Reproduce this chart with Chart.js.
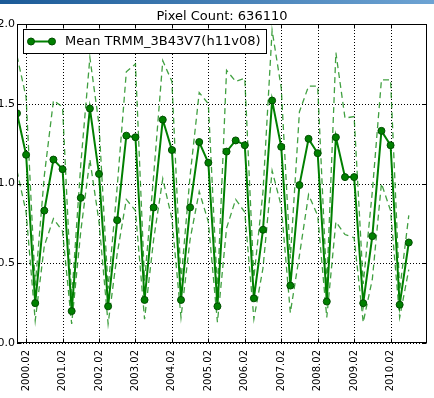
<!DOCTYPE html>
<html lang="en">
<head>
<meta charset="UTF-8">
<title>Pixel Count: 636110</title>
<script src="https://cdn.jsdelivr.net/npm/chart.js"></script>
<style>
    html, body { margin: 0; padding: 0; background: #fff; }
    #topbar { position: absolute; left: 0; top: 0; width: 434px; height: 4px; background: linear-gradient(to right, #1b5a97, #6da3d3); z-index: 2; }
    #wrap { position: relative; width: 434px; height: 398px; }
</style>
</head>
<body>
<div id="topbar"></div>
<div id="wrap"><canvas id="trmmChart"></canvas></div>

<script>
// quarterly samples (year.month)
const dates = [
    "1999.11",
    "2000.02", "2000.05", "2000.08", "2000.11",
    "2001.02", "2001.05", "2001.08", "2001.11",
    "2002.02", "2002.05", "2002.08", "2002.11",
    "2003.02", "2003.05", "2003.08", "2003.11",
    "2004.02", "2004.05", "2004.08", "2004.11",
    "2005.02", "2005.05", "2005.08", "2005.11",
    "2006.02", "2006.05", "2006.08", "2006.11",
    "2007.02", "2007.05", "2007.08", "2007.11",
    "2008.02", "2008.05", "2008.08", "2008.11",
    "2009.02", "2009.05", "2009.08", "2009.11",
    "2010.02", "2010.05", "2010.08"
];

const tickLabels = ["2000.02", "2001.02", "2002.02", "2003.02", "2004.02", "2005.02",
                    "2006.02", "2007.02", "2008.02", "2009.02", "2010.02"];
const yTicks = [0.0, 0.5, 1.0, 1.5, 2.0];

// mean and the two dashed bounds
const meanValues = [
    1.44,
    1.18, 0.25, 0.83, 1.15,
    1.09, 0.20, 0.91, 1.47,
    1.06, 0.23, 0.77, 1.30,
    1.29, 0.27, 0.85, 1.40,
    1.21, 0.27, 0.85, 1.26,
    1.13, 0.23, 1.20, 1.27,
    1.24, 0.28, 0.71, 1.52,
    1.23, 0.36, 0.99, 1.28,
    1.19, 0.26, 1.29, 1.04,
    1.04, 0.25, 0.67, 1.33,
    1.24, 0.24, 0.63
];
const upperValues = [
    1.80,
    1.54, 0.36, 1.05, 1.52,
    1.48, 0.28, 1.12, 1.79,
    1.37, 0.34, 0.98, 1.70,
    1.75, 0.39, 1.05, 1.77,
    1.64, 0.39, 1.05, 1.57,
    1.50, 0.33, 1.71, 1.64,
    1.66, 0.41, 0.95, 1.96,
    1.60, 0.53, 1.45, 1.61,
    1.61, 0.36, 1.82, 1.41,
    1.42, 0.37, 0.95, 1.65,
    1.65, 0.33, 0.80
];
const lowerValues = [
    1.08,
    0.82, 0.14, 0.61, 0.78,
    0.70, 0.12, 0.70, 1.15,
    0.76, 0.12, 0.56, 0.90,
    0.83, 0.15, 0.65, 1.03,
    0.78, 0.16, 0.65, 0.95,
    0.76, 0.13, 0.72, 0.90,
    0.82, 0.15, 0.47, 1.08,
    0.86, 0.19, 0.55, 0.93,
    0.80, 0.16, 0.76, 0.68,
    0.66, 0.13, 0.40, 1.00,
    0.83, 0.16, 0.46
];

const tickPos = tickLabels.map(function (l) { return dates.indexOf(l); });
const toPoints = function (arr) { return arr.map(function (v, i) { return { x: i, y: v }; }); };

const FONT = "'DejaVu Sans', sans-serif";
const GREEN = "#008000";
const DASHED = "rgba(0, 128, 0, 0.75)";

// grid, frame, inward ticks, legend and title (matplotlib look)
const framePlugin = {
    id: "frame",
    beforeDatasetsDraw(chart) {
        const { ctx, chartArea: a, scales } = chart;
        ctx.save();
        ctx.strokeStyle = "#000";
        ctx.lineWidth = 1;
        ctx.setLineDash([1, 2]);
        tickPos.forEach(function (v) {
            const x = Math.round(scales.x.getPixelForValue(v)) + 0.5;
            ctx.beginPath(); ctx.moveTo(x, a.top); ctx.lineTo(x, a.bottom); ctx.stroke();
        });
        yTicks.forEach(function (v) {
            const y = Math.round(scales.y.getPixelForValue(v)) + 0.5;
            ctx.beginPath(); ctx.moveTo(a.left, y); ctx.lineTo(a.right, y); ctx.stroke();
        });
        ctx.restore();
    },
    afterDatasetsDraw(chart) {
        const { ctx, chartArea: a, scales } = chart;
        const L = Math.round(a.left) + 0.5, R = Math.round(a.right) - 0.5;
        const T = Math.round(a.top) + 0.5, B = Math.round(a.bottom) - 0.5;
        ctx.save();
        ctx.strokeStyle = "#000";
        ctx.lineWidth = 1;
        ctx.setLineDash([]);
        ctx.strokeRect(L, T, R - L, B - T);

        // inward tick marks on all four sides
        ctx.beginPath();
        tickPos.forEach(function (v) {
            const x = Math.round(scales.x.getPixelForValue(v)) + 0.5;
            ctx.moveTo(x, B); ctx.lineTo(x, B - 4);
            ctx.moveTo(x, T); ctx.lineTo(x, T + 4);
        });
        yTicks.forEach(function (v) {
            const y = Math.round(scales.y.getPixelForValue(v)) + 0.5;
            ctx.moveTo(L, y); ctx.lineTo(L + 4, y);
            ctx.moveTo(R, y); ctx.lineTo(R - 4, y);
        });
        ctx.stroke();

        // legend
        const lx = 23.5, ly = 29.5, lw = 243, lh = 24;
        ctx.fillStyle = "#fff";
        ctx.fillRect(lx, ly, lw, lh);
        ctx.strokeRect(lx, ly, lw, lh);
        const my = ly + lh / 2;
        ctx.strokeStyle = GREEN;
        ctx.lineWidth = 2;
        ctx.beginPath(); ctx.moveTo(31, my); ctx.lineTo(52, my); ctx.stroke();
        [31, 52].forEach(function (cx) {
            ctx.beginPath();
            ctx.arc(cx, my, 3.5, 0, Math.PI * 2);
            ctx.fillStyle = GREEN; ctx.fill();
            ctx.lineWidth = 1; ctx.strokeStyle = "#004d00"; ctx.stroke();
        });
        ctx.fillStyle = "#000";
        ctx.font = "13px " + FONT;
        ctx.textBaseline = "middle";
        ctx.textAlign = "left";
        ctx.fillText("Mean TRMM_3B43V7(h11v08)", 65, my + 0.5);

        // title
        ctx.textAlign = "center";
        ctx.textBaseline = "alphabetic";
        ctx.fillText("Pixel Count: 636110", (a.left + a.right) / 2, 19.5);
        ctx.restore();
    }
};

new Chart(document.getElementById("trmmChart"), {
    type: "line",
    data: {
        datasets: [{
            label: "Mean TRMM_3B43V7(h11v08)",
            data: toPoints(meanValues),
            borderColor: GREEN,
            borderWidth: 2,
            pointRadius: 3.5,
            pointBackgroundColor: GREEN,
            pointBorderColor: "#004d00",
            pointBorderWidth: 1,
            tension: 0
        }, {
            label: "upper",
            data: toPoints(upperValues),
            borderColor: DASHED,
            borderWidth: 1.3,
            borderDash: [6, 4],
            pointRadius: 0,
            tension: 0
        }, {
            label: "lower",
            data: toPoints(lowerValues),
            borderColor: DASHED,
            borderWidth: 1.3,
            borderDash: [6, 4],
            pointRadius: 0,
            tension: 0
        }]
    },
    options: {
        responsive: true,
        maintainAspectRatio: false,
        animation: false,
        layout: { padding: { top: 24, right: 7, left: 0, bottom: 0 } },
        plugins: {
            legend: { display: false },
            tooltip: { enabled: false },
            title: { display: false }
        },
        scales: {
            x: {
                type: "linear",
                min: 0,
                max: 45,
                grid: { display: false, drawTicks: false, tickLength: 0 },
                border: { display: false },
                afterBuildTicks: function (scale) {
                    scale.ticks = tickPos.map(function (v) { return { value: v }; });
                },
                afterFit: function (scale) { scale.height = 55; },
                ticks: {
                    autoSkip: false,
                    minRotation: 90,
                    maxRotation: 90,
                    padding: 7,
                    color: "#000",
                    font: { family: FONT, size: 10 },
                    callback: function (v) { return tickLabels[tickPos.indexOf(v)]; }
                }
            },
            y: {
                min: 0,
                max: 2,
                grid: { display: false, drawTicks: false, tickLength: 0 },
                border: { display: false },
                afterFit: function (scale) { scale.width = 17; },
                ticks: {
                    stepSize: 0.5,
                    padding: 2,
                    color: "#000",
                    font: { family: FONT, size: 11 },
                    callback: function (v) { return v.toFixed(1); }
                }
            }
        }
    },
    plugins: [framePlugin]
});
</script>
</body>
</html>
